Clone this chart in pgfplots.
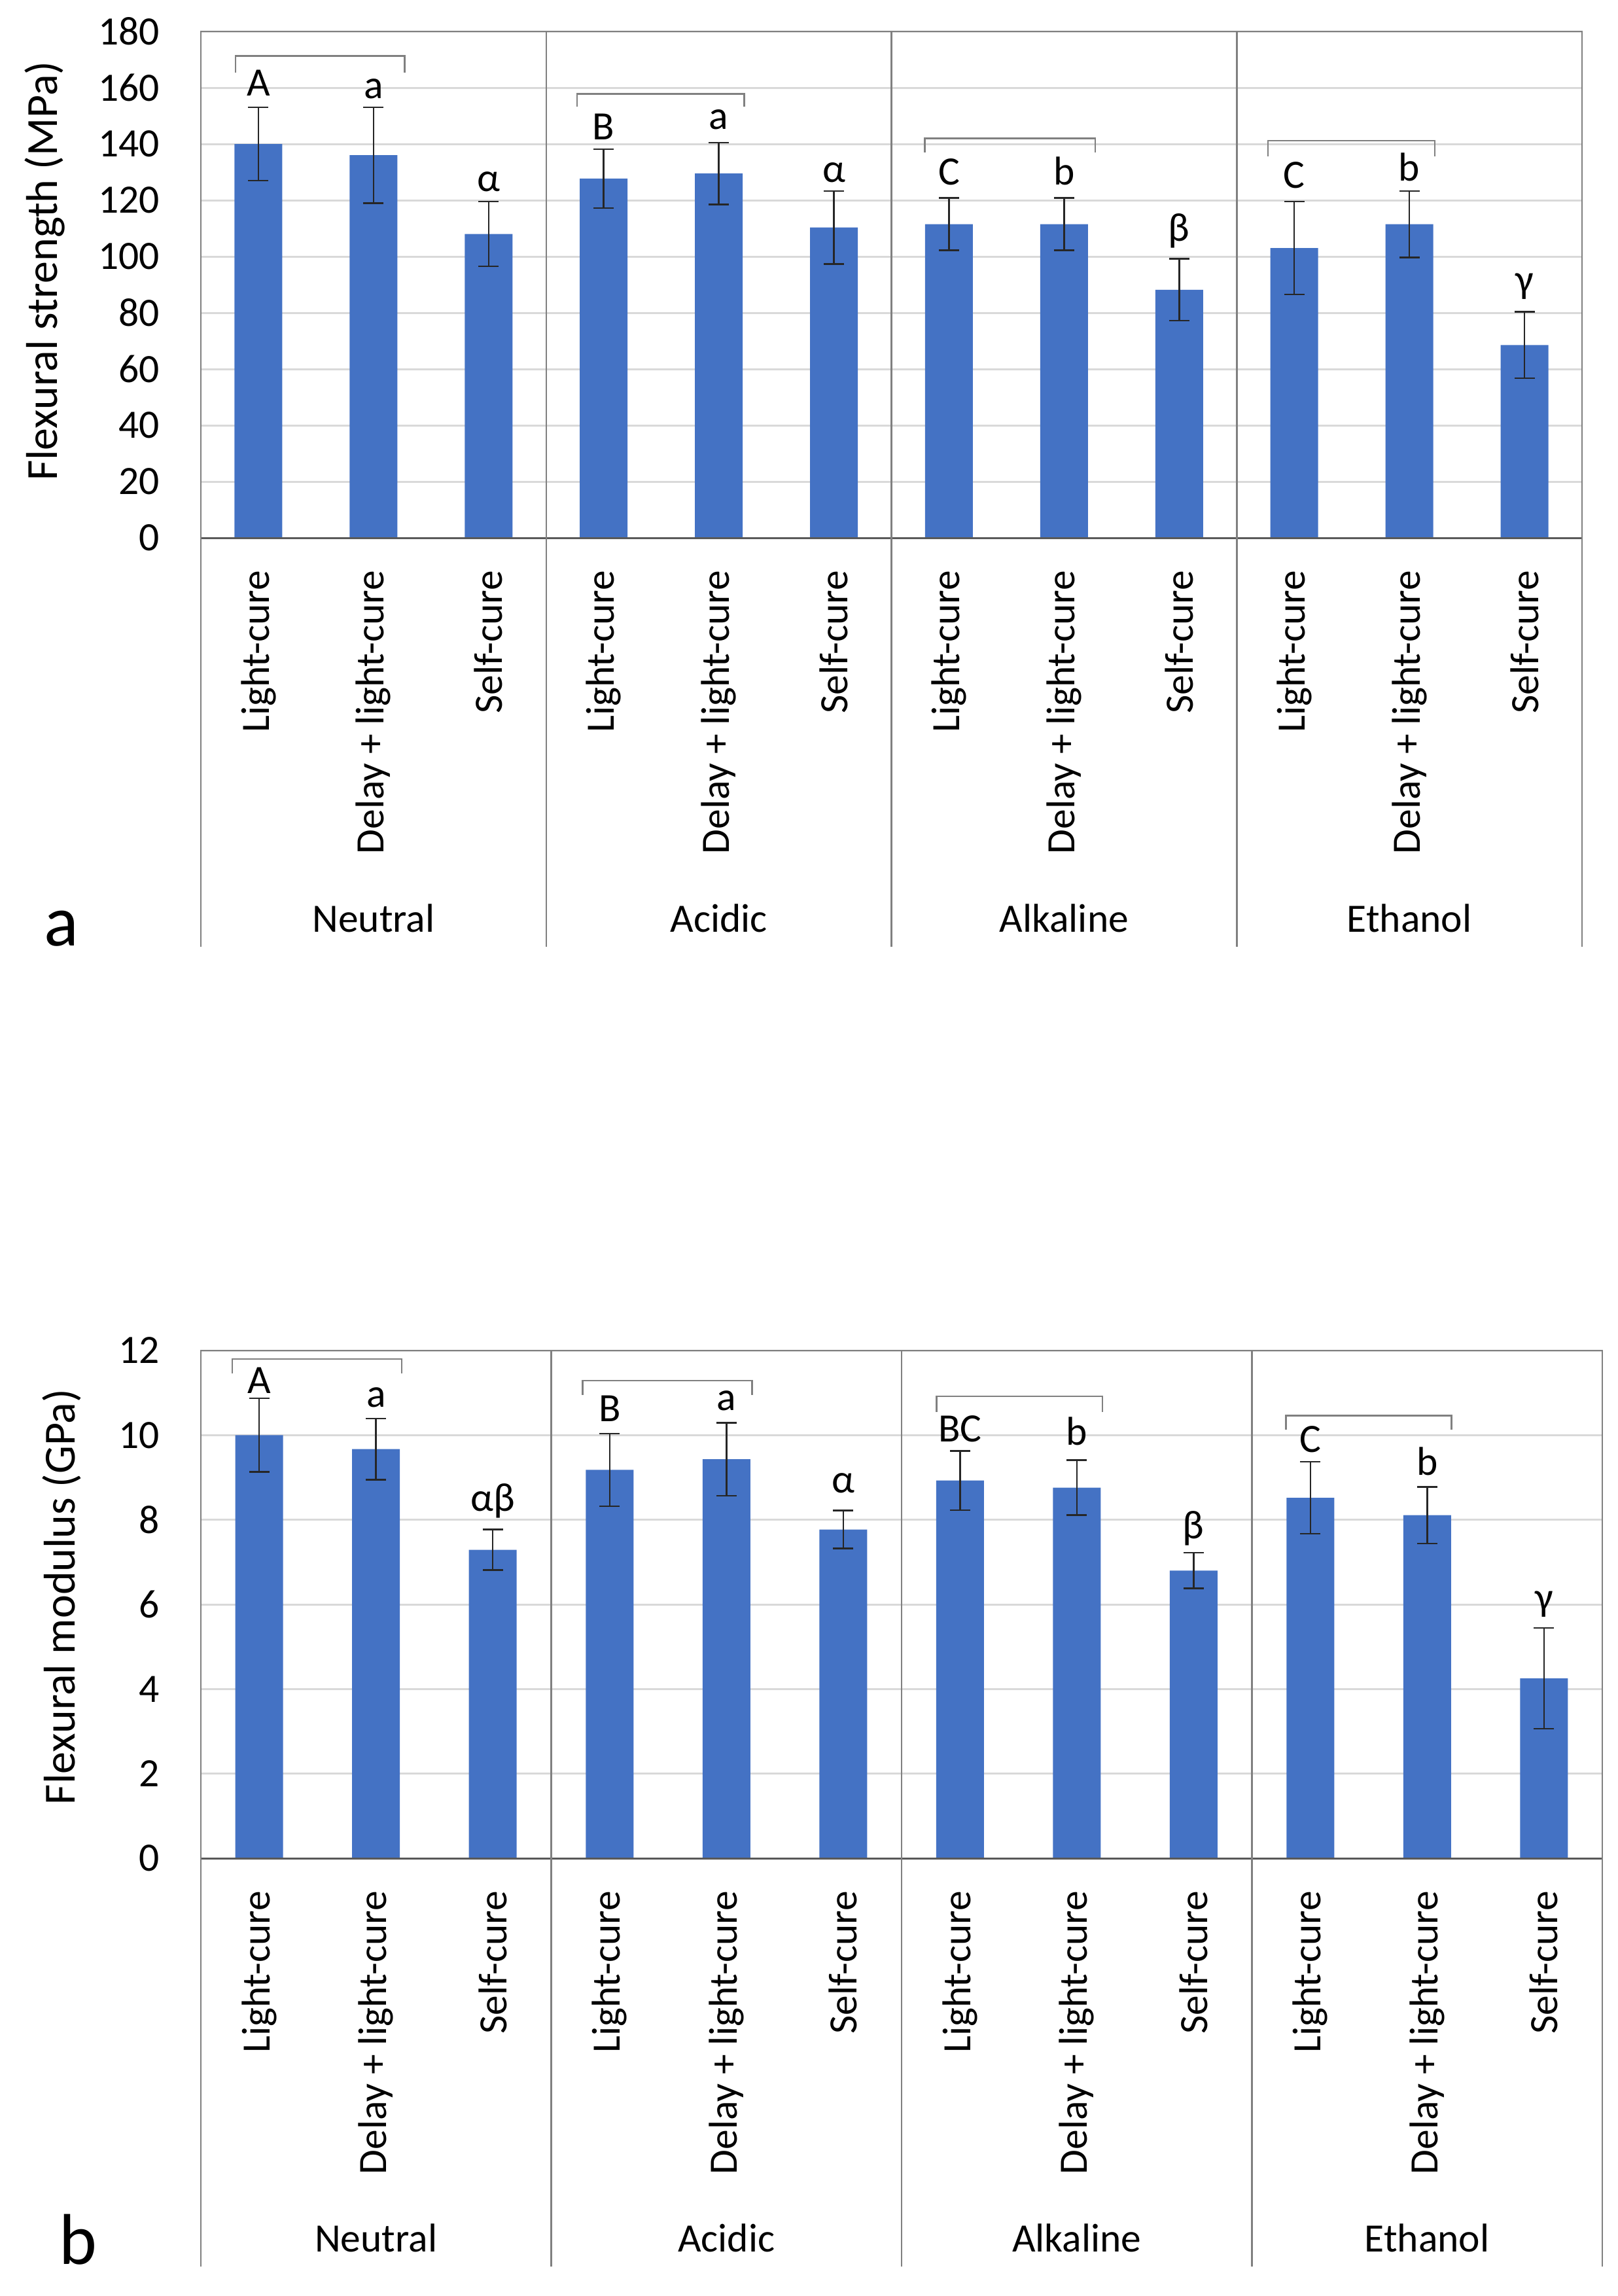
\documentclass[border=0pt]{standalone}
\usepackage{fontspec}
\setmainfont{Carlito}
\usepackage{pgfplots}
\pgfplotsset{compat=1.18}
\usepackage{pgfplotstable}
\definecolor{barblue}{HTML}{4472C4}
\definecolor{gridgray}{HTML}{D9D9D9}
\definecolor{sepgray}{HTML}{808080}
\definecolor{axgray}{HTML}{595959}

% x = category index, y = mean, e = SD
\pgfplotstableread{
x y e
0 140.0 13.0
1 136.0 17.0
2 108.0 11.5
3 127.7 10.5
4 129.5 11.0
5 110.3 13.0
6 111.5 9.3
7 111.5 9.3
8 88.2 11.0
9 103.0 16.5
10 111.5 11.8
11 68.5 11.8
}\strength

\pgfplotstableread{
x y e
0 10.00 0.87
1 9.67 0.72
2 7.29 0.48
3 9.18 0.86
4 9.43 0.86
5 7.77 0.45
6 8.93 0.70
7 8.76 0.65
8 6.80 0.42
9 8.52 0.85
10 8.11 0.67
11 4.25 1.19
}\modulus

\newcommand{\lblfont}{\fontsize{12.3}{14}\selectfont}

\pgfplotsset{
  panel/.style={
    scale only axis,
    xmin=-0.5, xmax=11.5, ymin=0,
    xtick={0,...,11},
    xticklabels={Light-cure, Delay + light-cure, Self-cure,
                 Light-cure, Delay + light-cure, Self-cure,
                 Light-cure, Delay + light-cure, Self-cure,
                 Light-cure, Delay + light-cure, Self-cure},
    xticklabel style={rotate=90, anchor=east, inner sep=0pt, font=\lblfont},
    xticklabel shift=9.8pt,
    yticklabel style={anchor=east, inner sep=0pt, xshift=-12.4pt, font=\lblfont},
    /pgf/number format/assume math mode=true,
    major tick length=0pt,
    ymajorgrids,
    grid style={gridgray, line width=0.6pt},
    axis line style={sepgray, line width=0.5pt},
    clip=false,
    error bars/error bar style={line width=0.5pt, black!85},
    error bars/error mark options={rotate=90, mark size=3.1pt, line width=0.5pt, black!85},
  },
  bars/.style={ybar, bar width=14.6pt, fill=barblue, draw=none,
    error bars/.cd, y dir=both, y explicit},
}
\tikzset{
  sep/.style={sepgray, line width=0.5pt},
  lett/.style={anchor=base, inner sep=0pt, font=\lblfont},
}

\begin{document}
\begin{tikzpicture}
\useasboundingbox (-61.4pt,164.4pt) rectangle (433.2pt,-537.4pt);

% ---- a: flexural strength ----
\begin{axis}[panel, at={(0pt,0pt)}, anchor=south west,
    width=422.2pt, height=154.8pt, ymax=180, ytick={0,20,...,180}]
\addplot[bars] table[x=x, y=y, y error=e] {\strength};
\draw[axgray, line width=0.6pt] (axis cs:-0.5,0) -- (axis cs:11.5,0);
\draw[sep] (axis cs:-0.5,180) -- ([yshift=-125pt]axis cs:-0.5,0);
\draw[sep] (axis cs:2.5,180) -- ([yshift=-125pt]axis cs:2.5,0);
\draw[sep] (axis cs:5.5,180) -- ([yshift=-125pt]axis cs:5.5,0);
\draw[sep] (axis cs:8.5,180) -- ([yshift=-125pt]axis cs:8.5,0);
\draw[sep] (axis cs:11.5,180) -- ([yshift=-125pt]axis cs:11.5,0);
\node[anchor=base, font=\lblfont] at ([yshift=-120.4pt]axis cs:1,0) {Neutral};
\node[anchor=base, font=\lblfont] at ([yshift=-120.4pt]axis cs:4,0) {Acidic};
\node[anchor=base, font=\lblfont] at ([yshift=-120.4pt]axis cs:7,0) {Alkaline};
\node[anchor=base, font=\lblfont] at ([yshift=-120.4pt]axis cs:10,0) {Ethanol};
\node[anchor=base west, font=\fontsize{22}{26}\selectfont]
  at ([xshift=-51.4pt, yshift=-124.6pt]axis cs:-0.5,0) {a};
\node[rotate=90, font=\fontsize{13.6}{16}\selectfont]
  at ([xshift=-47.8pt]axis description cs:0,0.527) {Flexural strength (MPa)};
% brackets
\draw[sep] (axis cs:-0.2,165.3) |- (axis cs:1.27,171.3) -- (axis cs:1.27,165.3);
\draw[sep] (axis cs:2.77,153.3) |- (axis cs:4.22,157.8) -- (axis cs:4.22,153.3);
\draw[sep] (axis cs:5.79,137.0) |- (axis cs:7.27,142.0) -- (axis cs:7.27,137.0);
\draw[sep] (axis cs:8.77,135.7) |- (axis cs:10.22,141.2) -- (axis cs:10.22,135.7);
% letters
\node[lett] at (axis cs:0,157.2) {A};
\node[lett] at (axis cs:1,156.1) {a};
\node[lett] at (axis cs:2,123.1) {α};
\node[lett] at (axis cs:3,141.4) {B};
\node[lett] at (axis cs:4,145.2) {a};
\node[lett] at (axis cs:5,126.3) {α};
\node[lett] at (axis cs:6,125.4) {C};
\node[lett] at (axis cs:7,125.4) {b};
\node[lett] at (axis cs:8,105.4) {β};
\node[lett] at (axis cs:9,124.3) {C};
\node[lett] at (axis cs:10,126.9) {b};
\node[lett] at (axis cs:11,87.2) {γ};
\end{axis}

% ---- b: flexural modulus ----
\begin{axis}[panel, at={(0pt,-403.6pt)}, anchor=south west,
    width=428.4pt, height=155.2pt, ymax=12, ytick={0,2,...,12}]
\addplot[bars] table[x=x, y=y, y error=e] {\modulus};
\draw[axgray, line width=0.6pt] (axis cs:-0.5,0) -- (axis cs:11.5,0);
\draw[sep] (axis cs:-0.5,12) -- ([yshift=-124.8pt]axis cs:-0.5,0);
\draw[sep] (axis cs:2.5,12) -- ([yshift=-124.8pt]axis cs:2.5,0);
\draw[sep] (axis cs:5.5,12) -- ([yshift=-124.8pt]axis cs:5.5,0);
\draw[sep] (axis cs:8.5,12) -- ([yshift=-124.8pt]axis cs:8.5,0);
\draw[sep] (axis cs:11.5,12) -- ([yshift=-124.8pt]axis cs:11.5,0);
\node[anchor=base, font=\lblfont] at ([yshift=-120.2pt]axis cs:1,0) {Neutral};
\node[anchor=base, font=\lblfont] at ([yshift=-120.2pt]axis cs:4,0) {Acidic};
\node[anchor=base, font=\lblfont] at ([yshift=-120.2pt]axis cs:7,0) {Alkaline};
\node[anchor=base, font=\lblfont] at ([yshift=-120.2pt]axis cs:10,0) {Ethanol};
\node[anchor=base west, font=\fontsize{22}{26}\selectfont]
  at ([xshift=-46.8pt, yshift=-124pt]axis cs:-0.5,0) {b};
\node[rotate=90, font=\fontsize{13.6}{16}\selectfont]
  at ([xshift=-42.6pt]axis description cs:0,0.515) {Flexural modulus (GPa)};
% brackets
\draw[sep] (axis cs:-0.23,11.46) |- (axis cs:1.22,11.80) -- (axis cs:1.22,11.46);
\draw[sep] (axis cs:2.77,10.95) |- (axis cs:4.22,11.29) -- (axis cs:4.22,10.95);
\draw[sep] (axis cs:5.80,10.55) |- (axis cs:7.22,10.92) -- (axis cs:7.22,10.55);
\draw[sep] (axis cs:8.79,10.13) |- (axis cs:10.21,10.46) -- (axis cs:10.21,10.13);
% letters
\node[lett] at (axis cs:0,10.98) {A};
\node[lett] at (axis cs:1,10.66) {a};
\node[lett] at (axis cs:2,8.21) {αβ};
\node[lett] at (axis cs:3,10.33) {B};
\node[lett] at (axis cs:4,10.58) {a};
\node[lett] at (axis cs:5,8.63) {α};
\node[lett] at (axis cs:6,9.85) {BC};
\node[lett] at (axis cs:7,9.76) {b};
\node[lett] at (axis cs:8,7.56) {β};
\node[lett] at (axis cs:9,9.60) {C};
\node[lett] at (axis cs:10,9.05) {b};
\node[lett] at (axis cs:11,5.86) {γ};
\end{axis}
\end{tikzpicture}
\end{document}
